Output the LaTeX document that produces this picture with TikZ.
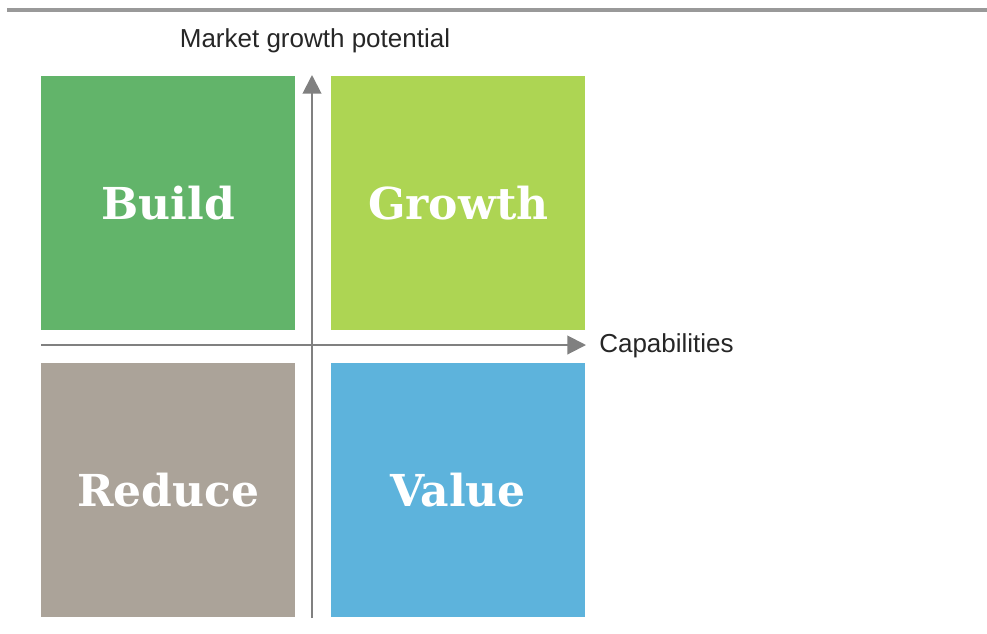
\documentclass[tikz,border=0pt]{standalone}
\usepackage{fontspec}
\setmainfont{Liberation Sans}
\newfontfamily\slab{DejaVu Serif}
\usetikzlibrary{arrows.meta}

\definecolor{rulegray}{HTML}{999999}
\definecolor{axisgray}{HTML}{808080}
\definecolor{buildgreen}{HTML}{62B46A}
\definecolor{growthgreen}{HTML}{ADD553}
\definecolor{reducegray}{HTML}{ABA399}
\definecolor{valueblue}{HTML}{5DB3DC}

\tikzset{
  quad/.style={anchor=north west, minimum size=190.5pt, inner sep=0pt,
    text=white, font=\slab\bfseries\fontsize{33}{36}\selectfont},
  axislabel/.style={text=black!85, font=\fontsize{19.5}{22}\selectfont, inner sep=0pt},
  axis/.style={draw=axisgray, line width=1.5pt,
    -{Triangle[length=14pt, width=14pt]}}
}

\begin{document}
\begin{tikzpicture}[x=0.75pt, y=-0.75pt]
\useasboundingbox (0,0) rectangle (987,633);

% rule across the top
\draw[rulegray, line width=3.5pt] (7,10) -- (987,10);

\node[quad, fill=buildgreen]  (build)  at (41,76)  {Build};
\node[quad, fill=growthgreen] (growth) at (331,76) {Growth};
\node[quad, fill=reducegray]  (reduce) at (41,363) {Reduce};
\node[quad, fill=valueblue]   (value)  at (331,363) {Value};

\coordinate (xstart) at (41,345);
\coordinate (xend)   at (586,345);
\coordinate (ystart) at (312,618);
\coordinate (yend)   at (312,75);

\draw[axis] (ystart) -- (yend);
\draw[axis] (xstart) -- (xend);

\node[axislabel, anchor=west] (cap) at (599,346) {Capabilities};
\node[axislabel] (market) at (315,41) {Market growth potential};
\end{tikzpicture}
\end{document}
